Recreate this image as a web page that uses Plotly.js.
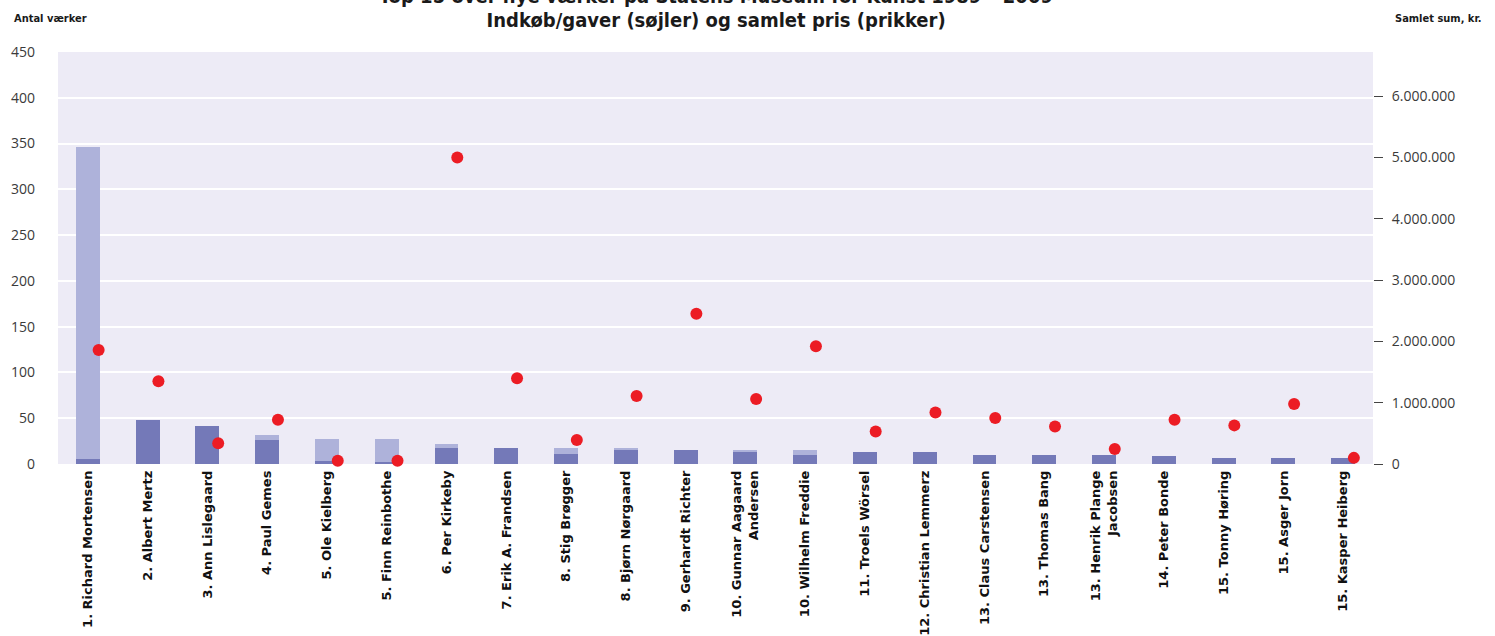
<!DOCTYPE html>
<html>
<head>
<meta charset="utf-8">
<script src="https://cdn.plot.ly/plotly-3.0.1.min.js"></script>
<style>html,body{margin:0;padding:0;background:#fff;}#chart{width:1495px;height:636px;}</style>
</head>
<body>
<div id="chart"></div>
<script>
const artists = [
  "1. Richard Mortensen", "2. Albert Mertz", "3. Ann Lislegaard", "4. Paul Gemes",
  "5. Ole Kielberg", "5. Finn Reinbothe", "6. Per Kirkeby", "7. Erik A. Frandsen",
  "8. Stig Brøgger", "8. Bjørn Nørgaard", "9. Gerhardt Richter", "10. Gunnar Aagaard<br>Andersen",
  "10. Wilhelm Freddie", "11. Troels Wörsel", "12. Christian Lemmerz", "13. Claus Carstensen",
  "13. Thomas Bang", "13. Henrik Plange<br>Jacobsen", "14. Peter Bonde", "15. Tonny Høring",
  "15. Asger Jorn", "15. Kasper Heiberg"
];
const purchases = [5, 48, 42, 26, 3, 2, 17, 18, 11, 15, 15, 13, 10, 13, 13, 10, 10, 10, 9, 7, 7, 7];
const gifts     = [341, 0, 0, 6, 24, 25, 5, 0, 6, 2, 0, 2, 5, 0, 0, 0, 0, 0, 0, 0, 0, 0];
const totalPrice = [1860000, 1350000, 340000, 720000, 54000, 54000, 5000000, 1400000, 390000, 1110000,
  2450000, 1060000, 1920000, 530000, 840000, 750000, 610000, 245000, 720000, 630000, 980000, 100000];
const leftTicks = [0, 50, 100, 150, 200, 250, 300, 350, 400, 450];
const rightTicks = [0, 1000000, 2000000, 3000000, 4000000, 5000000, 6000000];

const titleLine1 = "Top 15 over nye værker på Statens Museum for Kunst 1989 – 2009";
const titleLine2 = "Indkøb/gaver (søjler) og samlet pris (prikker)";

const tickFont = {family: "Open Sans, sans-serif", size: 14, color: "#3a3a3a"};
const titleFont = {family: "DejaVu Sans Condensed, sans-serif", size: 20, color: "#1a1a1a", weight: "bold"};

const traces = [
  {type: "bar", name: "Indkøb", x: artists, y: purchases, width: 0.4,
   marker: {color: "#7479b8"}, hoverinfo: "x+y"},
  {type: "bar", name: "Gaver", x: artists, y: gifts, width: 0.4,
   marker: {color: "#aeb2da"}, hoverinfo: "x+y"},
  {type: "scatter", mode: "markers", name: "Samlet pris", x: artists, y: totalPrice,
   xaxis: "x2", yaxis: "y2", marker: {color: "#ec1c24", size: 12}, cliponaxis: false}
];

const layout = {
  width: 1495, height: 636,
  margin: {l: 58, r: 122, t: 52, b: 172, pad: 0},
  paper_bgcolor: "#ffffff",
  plot_bgcolor: "#edebf6",
  barmode: "stack",
  showlegend: false,
  separators: ",.",
  title: {
    text: titleLine2,
    font: titleFont,
    x: 0.479, xanchor: "center", xref: "container",
    y: 0.968, yanchor: "middle", yref: "container"
  },
  xaxis: {
    type: "category", categoryorder: "array", categoryarray: artists,
    range: [-0.5, artists.length - 0.5],
    tickangle: -90, showgrid: false, zeroline: false, showline: false, ticks: "",
    tickfont: {family: "DejaVu Sans, sans-serif", size: 13, color: "#111", weight: "bold"},
    ticklabelstandoff: 3, fixedrange: true
  },
  xaxis2: {
    type: "category", categoryorder: "array", categoryarray: artists,
    overlaying: "x", visible: false,
    range: [-0.5 - 0.18, artists.length - 0.5 - 0.18], fixedrange: true
  },
  yaxis: {
    range: [0, 450], tickvals: leftTicks, showgrid: true, gridcolor: "#ffffff", gridwidth: 2,
    zeroline: false, showline: false, ticks: "", tickfont: tickFont, ticklabelstandoff: 22,
    fixedrange: true
  },
  yaxis2: {
    overlaying: "y", side: "right", range: [0, 6720000], tickvals: rightTicks, tickformat: ",d",
    showgrid: false, zeroline: false, showline: false, ticks: "outside", ticklen: 9,
    tickcolor: "#444", tickwidth: 1, tickfont: tickFont, ticklabelstandoff: 6, fixedrange: true
  },
  annotations: [
    {text: titleLine1, xref: "paper", yref: "paper", x: 0.5004, y: 1, yshift: 56,
     xanchor: "center", yanchor: "middle", showarrow: false, font: titleFont},
    {text: "Antal værker", xref: "paper", yref: "paper", x: 0, xshift: -46, y: 1, yshift: 34,
     xanchor: "left", yanchor: "middle", showarrow: false,
     font: {family: "DejaVu Sans Condensed, sans-serif", size: 11, color: "#1a1a1a", weight: "bold"}},
    {text: "Samlet sum, kr.", xref: "paper", yref: "paper", x: 1, xshift: 20, y: 1, yshift: 34,
     xanchor: "left", yanchor: "middle", showarrow: false,
     font: {family: "DejaVu Sans Condensed, sans-serif", size: 11, color: "#1a1a1a", weight: "bold"}}
  ]
};

Plotly.newPlot("chart", traces, layout, {displayModeBar: false, staticPlot: true});
</script>
</body>
</html>
